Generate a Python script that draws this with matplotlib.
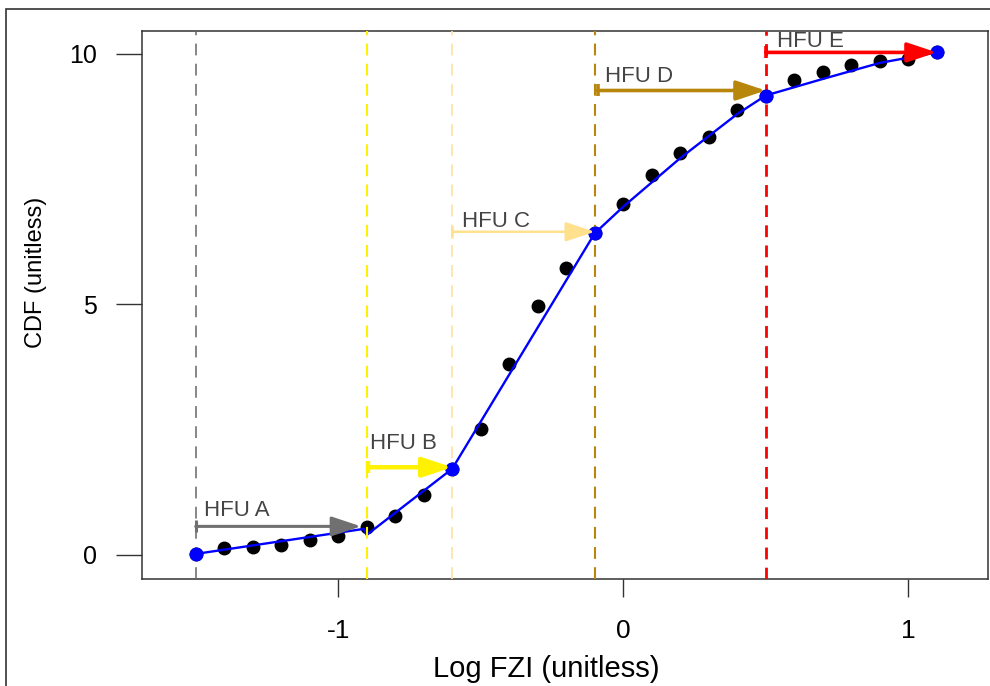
import matplotlib
matplotlib.use("Agg")
from matplotlib import pyplot as plt
from matplotlib.patches import Rectangle

plt.rcParams['font.family'] = ['Liberation Sans', 'DejaVu Sans']
plt.rcParams['lines.scale_dashes'] = False
plt.rcParams['axes.unicode_minus'] = False

# measured points (black dots)
log_fzi = [-1.5, -1.4, -1.3, -1.2, -1.1, -1.0, -0.9, -0.8, -0.7, -0.6, -0.5, -0.4, -0.3, -0.2,
           -0.1, 0.0, 0.1, 0.2, 0.3, 0.4, 0.5, 0.6, 0.7, 0.8, 0.9, 1.0, 1.1]
cdf = [0.02, 0.14, 0.16, 0.20, 0.30, 0.38, 0.56, 0.78, 1.20, 1.72, 2.52, 3.82, 4.96, 5.72,
       6.42, 7.00, 7.58, 8.02, 8.35, 8.88, 9.17, 9.48, 9.64, 9.78, 9.85, 9.89, 10.03]

# fitted blue line
fit_x = [-1.5, -0.91, -0.9, -0.6, -0.1, 0.0, 0.2, 0.4, 0.5, 0.7, 0.9, 1.1]
fit_y = [0.02, 0.52, 0.40, 1.72, 6.42, 6.95, 7.92, 8.80, 9.17, 9.50, 9.82, 10.03]

# boundaries between flow units
bound_x = [-1.5, -0.6, -0.1, 0.5, 1.1]
bound_y = [0.02, 1.72, 6.42, 9.17, 10.03]

# vertical dashed lines
cut_x = [-1.5, -0.9, -0.6, -0.1, 0.5]
cut_colors = ['#666666', '#FFF200', '#FFE0A0', '#B8860B', '#FF0000']
cut_widths = [1.1, 1.5, 1.2, 1.5, 2.0]

# HFU arrows
hfu_labels = ['HFU A', 'HFU B', 'HFU C', 'HFU D', 'HFU E']
arrow_start = [-1.5, -0.895, -0.6, -0.09, 0.5]
arrow_end = [-0.92, -0.6, -0.1, 0.5, 1.1]
arrow_y = [0.57, 1.75, 6.45, 9.27, 10.03]
arrow_colors = ['#707070', '#FFF200', '#FFE08C', '#B8860B', '#FF0000']
arrow_widths = [2.2, 3.2, 1.8, 2.6, 2.6]
label_x = [-1.471, -0.888, -0.565, -0.063, 0.54]
label_y = [0.89, 2.23, 6.65, 9.55, 10.24]

fig = plt.figure(figsize=(9.9, 6.86), dpi=100)
ax = fig.add_axes([0.143, 0.156, 0.855, 0.799])

fig.patches.append(Rectangle((0.006, -0.2), 1.2, 1.2 - 0.013, transform=fig.transFigure,
                             fill=False, edgecolor='#333333', lw=1.2))

ax.plot(log_fzi, cdf, 'o', color='black', ms=9, zorder=2)
ax.plot(fit_x, fit_y, '-', color='#0000FF', lw=1.7, zorder=3)

for x, c, w in zip(cut_x, cut_colors, cut_widths):
    ax.axvline(x, color=c, lw=w, linestyle=(0, (8.5, 6.0)), zorder=4)

ax.plot(bound_x, bound_y, 'o', color='#0000FF', ms=9, zorder=5)

for lab, x0, x1, y, c, w, lx, ly in zip(hfu_labels, arrow_start, arrow_end, arrow_y,
                                        arrow_colors, arrow_widths, label_x, label_y):
    ax.annotate('', xy=(x1, y), xytext=(x0, y),
                arrowprops=dict(arrowstyle='-|>,head_length=1.8,head_width=0.6',
                                color=c, lw=w, shrinkA=0, shrinkB=0, mutation_scale=10),
                zorder=6)
    ax.plot(x0, y, marker='|', ms=9, mew=w, color=c, zorder=6)
    ax.text(lx, ly, lab, fontsize=16, color='#444444', ha='left', va='center', zorder=7)

ax.set_xlim(-1.69, 1.28)
ax.set_ylim(-0.48, 10.46)
ax.set_xticks([-1, 0, 1])
ax.set_yticks([0, 5, 10])
ax.tick_params(axis='x', length=13, width=1.0, pad=16, labelsize=19, color='#333333')
ax.tick_params(axis='y', length=19, width=1.0, pad=13, labelsize=18, color='#333333')
for s in ax.spines.values():
    s.set_color('#333333')
    s.set_linewidth(1.1)

ax.set_xlabel('Log FZI (unitless)', fontsize=21)
ax.set_ylabel('CDF (unitless)', fontsize=17)
ax.xaxis.set_label_coords(0.478, -0.138)
ax.yaxis.set_label_coords(-0.112, 0.56)

fig.savefig('out.png', dpi=100)
